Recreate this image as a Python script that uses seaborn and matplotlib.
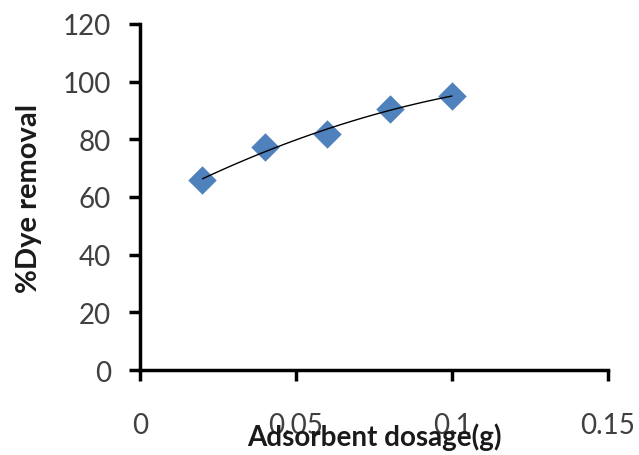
import numpy as np
import pandas as pd
import matplotlib
matplotlib.use("Agg")
import matplotlib.pyplot as plt
import seaborn as sns

dosage = [0.02, 0.04, 0.06, 0.08, 0.10]
removal = [65.8, 77.2, 82.0, 90.6, 95.0]
x_ticks = [0, 0.05, 0.1, 0.15]
x_tick_labels = ["0", "0.05", "0.1", "0.15"]
y_ticks = [0, 20, 40, 60, 80, 100, 120]

sns.set_style("white")
plt.rcParams['font.family'] = ['Lato', 'DejaVu Sans']

df = pd.DataFrame({"dosage": dosage, "removal": removal})
coef = np.polyfit(df["dosage"], df["removal"], 2)
xs = np.linspace(min(dosage), max(dosage), 100)
fit = pd.DataFrame({"x": xs, "y": np.polyval(coef, xs)})

fig = plt.figure(figsize=(6.39, 4.56), dpi=100)
ax = fig.add_axes([140/639, 1-371/456, (608-140)/639, (371-25)/456])

sns.lineplot(data=fit, x="x", y="y", ax=ax, color="black", linewidth=1.0, zorder=3)
sns.scatterplot(data=df, x="dosage", y="removal", ax=ax, marker="D", s=210,
                color="#4F81BD", edgecolor="#4F81BD", linewidth=0, zorder=2)

ax.set_xlim(0, 0.15)
ax.set_ylim(0, 120)
ax.set_xticks(x_ticks)
ax.set_xticklabels(x_tick_labels)
ax.set_yticks(y_ticks)

for s in ["top", "right"]:
    ax.spines[s].set_visible(False)
for s in ["left", "bottom"]:
    ax.spines[s].set_color("black")
    ax.spines[s].set_linewidth(2.5)

ax.tick_params(axis="both", direction="out", length=8, width=2.5, color="black",
               labelsize=20, labelcolor="#404040")
ax.tick_params(axis="y", pad=13, left=True)
ax.tick_params(axis="x", pad=22, bottom=True)

ax.set_xlabel("Adsorbent dosage(g)", fontsize=20, fontweight="bold", color="#1a1a1a", labelpad=-11)
ax.set_ylabel("%Dye removal", fontsize=21, fontweight="bold", color="#1a1a1a", labelpad=15)

fig.savefig("out.png", dpi=100)
